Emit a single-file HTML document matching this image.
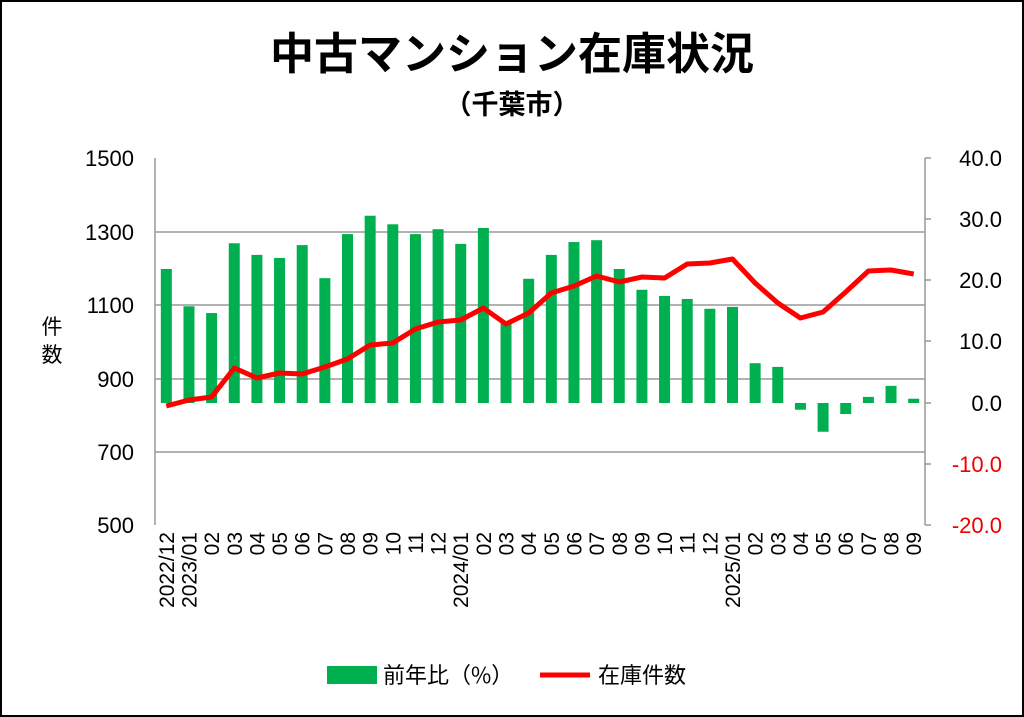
<!DOCTYPE html>
<html><head><meta charset="utf-8"><style>
body{margin:0;background:#fff}
svg{display:block;font-family:"Liberation Sans","Noto Sans CJK JP",sans-serif}
</style></head><body>
<svg width="1024" height="717" viewBox="0 0 1024 717">
<rect x="1" y="1" width="1022" height="715" fill="#fff" stroke="#000" stroke-width="2"/>
<text x="512" y="69" font-size="44" font-weight="bold" text-anchor="middle" font-family="'Noto Sans CJK JP',sans-serif">中古マンション在庫状況</text>
<text x="512" y="114" font-size="27" font-weight="bold" text-anchor="middle" font-family="'Noto Sans CJK JP',sans-serif">（千葉市）</text>
<g stroke="#999" stroke-width="1.5">
<line x1="155" y1="232" x2="925" y2="232"/><line x1="155" y1="305" x2="925" y2="305"/>
<line x1="155" y1="379" x2="925" y2="379"/><line x1="155" y1="452" x2="925" y2="452"/>
<line x1="155" y1="158" x2="155" y2="525"/><line x1="925" y1="158" x2="925" y2="525"/>
<line x1="925" y1="158" x2="931" y2="158"/><line x1="925" y1="219" x2="931" y2="219"/><line x1="925" y1="280" x2="931" y2="280"/><line x1="925" y1="341" x2="931" y2="341"/><line x1="925" y1="403" x2="931" y2="403"/><line x1="925" y1="464" x2="931" y2="464"/><line x1="925" y1="525" x2="931" y2="525"/>
</g>
<g font-size="22" text-anchor="end">
<text x="134" y="166">1500</text><text x="134" y="240">1300</text><text x="134" y="313">1100</text><text x="134" y="387">900</text><text x="134" y="460">700</text><text x="134" y="533">500</text>
</g>
<g font-size="22" text-anchor="end">
<text x="1002" y="166">40.0</text><text x="1002" y="227">30.0</text><text x="1002" y="288">20.0</text><text x="1002" y="349">10.0</text><text x="1002" y="411">0.0</text><text x="1002" y="472" fill="#e00">-10.0</text><text x="1002" y="533" fill="#e00">-20.0</text>
</g>
<text x="52" y="334" font-size="21" text-anchor="middle" font-family="'Noto Sans CJK JP',sans-serif">件</text>
<text x="52" y="362" font-size="21" text-anchor="middle" font-family="'Noto Sans CJK JP',sans-serif">数</text>
<g id="bars" fill="#00b050"></g>
<polyline id="line" fill="none" stroke="#f00" stroke-width="5" stroke-linejoin="round"/>
<g id="xl" font-size="21"></g>
<rect x="327" y="666" width="50" height="18" fill="#00b050"/>
<text x="383" y="683" font-size="22" font-family="'Noto Sans CJK JP',sans-serif">前年比（%）</text>
<line x1="540" y1="675" x2="590" y2="675" stroke="#f00" stroke-width="5"/>
<text x="598" y="683" font-size="22" font-family="'Noto Sans CJK JP',sans-serif">在庫件数</text>
</svg>
<script>
var pct=[21.9,15.8,14.7,26.1,24.2,23.7,25.8,20.4,27.6,30.6,29.2,27.6,28.4,26,28.6,13.1,20.3,24.2,26.3,26.6,21.9,18.5,17.5,17,15.4,15.7,6.5,5.9,-1.1,-4.7,-1.8,1,2.8,0.7];
var ly=[406,400,397,368,378,373,374,367,359,345,343,329,322,320,308,324,313,293,286,276,282,277,278,264,263,259,283,303,318,312,292,271,270,274];
var labs=["2022/12","2023/01","02","03","04","05","06","07","08","09","10","11","12","2024/01","02","03","04","05","06","07","08","09","10","11","12","2025/01","02","03","04","05","06","07","08","09"];
var ns="http://www.w3.org/2000/svg",b=document.getElementById("bars"),xl=document.getElementById("xl"),pts=[];
for(var i=0;i<34;i++){var cx=155+22.647*(i+0.5);var y=403-pct[i]*6.12;
var r=document.createElementNS(ns,"rect");r.setAttribute("x",cx-5.5);r.setAttribute("width",11);r.setAttribute("y",Math.min(y,403));r.setAttribute("height",Math.abs(403-y));b.appendChild(r);
pts.push(cx.toFixed(1)+","+ly[i]);
var t=document.createElementNS(ns,"text");t.textContent=labs[i];t.setAttribute("text-anchor","end");t.setAttribute("transform","translate("+(cx+7.5)+",532) rotate(-90)");xl.appendChild(t);}
document.getElementById("line").setAttribute("points",pts.join(" "));
</script>
</body></html>
